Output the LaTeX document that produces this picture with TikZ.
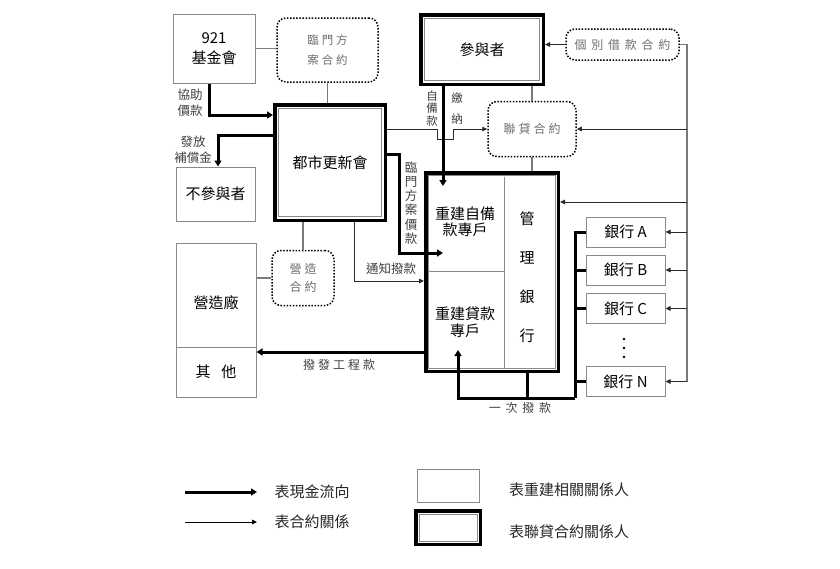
\documentclass[tikz,border=0pt]{standalone}
\usepackage{fontspec}
\setmainfont{Noto Sans CJK TC}
\newfontfamily\lsA[LetterSpace=25]{Noto Sans CJK TC}
\newfontfamily\lsB[LetterSpace=40]{Noto Sans CJK TC}
\usetikzlibrary{arrows.meta,calc}
\definecolor{boxgray}{HTML}{8A8A8A}
\definecolor{linegray}{HTML}{7A7A7A}
\definecolor{dotgray}{HTML}{6E6E6E}
\definecolor{lblgray}{HTML}{404040}
\definecolor{arrowdark}{HTML}{2A2A2A}
\tikzset{
  plain/.style={draw=boxgray, line width=1pt, fill=white, inner sep=0pt, align=center,
    font=\fontsize{15}{20}\selectfont},
  dblbox/.style={draw=black, line width=3.5pt, fill=white, inner sep=0pt, align=center,
    font=\fontsize{15}{20}\selectfont},
  innerline/.style={draw=boxgray, line width=1pt},
  dotbox/.style={draw=black, line width=1.5pt, dash pattern=on 1.5pt off 1.6pt,
    rounded corners=9pt, fill=white, inner sep=0pt, align=center, text=dotgray},
  money/.style={draw=black, line width=3pt, -{Triangle[length=6pt,width=7pt]}},
  moneyline/.style={draw=black, line width=3pt},
  contract/.style={draw=arrowdark, line width=1pt, -{Triangle[length=5pt,width=4.5pt]}},
  thinline/.style={draw=linegray, line width=1.1pt},
  lbl/.style={text=lblgray, inner sep=0pt, align=center},
  maintxt/.style={text=black, inner sep=0pt, align=center},
}
\newcommand\innerframe[2]{\draw[innerline] ([shift={(#2,-#2)}]#1.north west) rectangle ([shift={(-#2,#2)}]#1.south east);}
\begin{document}
\begin{tikzpicture}[x=1pt,y=-1pt]
\useasboundingbox (0,0) rectangle (840,568);
\fill[white] (0,0) rectangle (840,568);

% ---------- nodes ----------
\node[plain, minimum width=82, minimum height=69] (fund) at (214,48.5) {921\\基金會};
\node[dotbox, minimum width=101, minimum height=64, font=\lsA\fontsize{11.5}{20}\selectfont] (linmen) at (327.5,50) {臨門方\\案合約};
\node[dblbox, minimum width=110.5, minimum height=115.5] (urban) at (330,162.5) {都市更新會};
\innerframe{urban}{5.5pt}
\node[plain, minimum width=79, minimum height=54] (nonpart) at (215.5,194) {不參與者};

\node[dblbox, minimum width=122.5, minimum height=69.5] (part) at (482,49.5) {參與者};
\innerframe{part}{5.5pt}
\node[dotbox, minimum width=113, minimum height=31, font=\lsB\fontsize{12}{16}\selectfont] (indiv) at (622.5,44.5) {個別借款合約};
\node[dotbox, minimum width=88, minimum height=55, font=\lsA\fontsize{12}{16}\selectfont] (syn) at (532,129) {聯貸合約};

\node[dblbox, minimum width=132.5, minimum height=198.5] (mgr) at (492,272) {};
\innerframe{mgr}{4.5pt}
\draw[innerline] (504,176.5) -- (504,368.5);
\draw[innerline] (428.5,271) -- (504,271);
\node[maintxt, font=\fontsize{15}{16.5}\selectfont] (selfacct) at (465,222) {重建自備\\款專戶};
\node[maintxt, font=\fontsize{15}{17}\selectfont] (loanacct) at (465,322) {重建貸款\\專戶};
\node[maintxt, font=\fontsize{15}{39}\selectfont] (mgrbank) at (527,277) {管\\理\\銀\\行};

\node[plain, minimum width=79, minimum height=30] (bankA) at (625.5,232) {銀行 A};
\node[plain, minimum width=79, minimum height=30] (bankB) at (625.5,270) {銀行 B};
\node[plain, minimum width=79, minimum height=30] (bankC) at (625.5,308.5) {銀行 C};
\node[plain, minimum width=79, minimum height=30] (bankN) at (625.5,381.5) {銀行 N};
\fill[black] (624,339) circle (1.4) (624,348) circle (1.4) (624,357) circle (1.4);

\node[plain, minimum width=80, minimum height=104] (builder) at (216,295) {};
\node[maintxt, font=\fontsize{15}{18}\selectfont] (buildertxt) at (216,303) {營造廠};
\node[plain, minimum width=80, minimum height=50] (other) at (216,372) {其\hspace{11pt}他};
\node[dotbox, minimum width=62, minimum height=55, font=\lsA\fontsize{12}{18}\selectfont] (bcon) at (303,278) {營造\\合約};

% ---------- coordinates ----------
\coordinate (rtop) at (687,44.5);
\coordinate (rbot) at (687,381.5);
\coordinate (selfin) at (443,186);
\coordinate (lmin) at (443,253);
\coordinate (loanin) at (458,350);
\coordinate (bx) at (575,398);

% ---------- thin plain lines ----------
\draw[thinline] (fund.east) -- (fund.east -| linmen.west);
\draw[thinline] (linmen.south) -- (linmen.south |- urban.north);
\draw[thinline] (syn.north |- part.south) -- (syn.north);
\draw[thinline] (syn.south) -- (syn.south |- mgr.north);
\draw[thinline] (bcon.west -| builder.east) -- (bcon.west);
\draw[thinline] (bcon.north |- urban.south) -- (bcon.north);
\draw[thinline] (indiv.east) -| (rbot);

% ---------- contract arrows ----------
\draw[contract] (indiv.west) -- (indiv.west -| part.east);
\draw[contract] (syn.east -| rtop) -- (syn.east);
\draw[contract] ([yshift=70pt]mgr.east -| rtop) -- ([yshift=70pt]mgr.east);
\draw[contract] (bankA.east -| rtop) -- (bankA.east);
\draw[contract] (bankB.east -| rtop) -- (bankB.east);
\draw[contract] (bankC.east -| rtop) -- (bankC.east);
\draw[contract] (bankN.east -| rtop) -- (bankN.east);
\draw[contract] ([yshift=33.5pt]urban.east) -- ++(50,0) -- ++(0,10) -- ++(16,0) -- ++(0,-10) -- (syn.west);
\draw[contract] ([xshift=24pt]urban.south) |- ([yshift=-9pt]mgr.west);

% ---------- money arrows ----------
\draw[money] ([xshift=-5pt]fund.south) |- ([yshift=47.5pt]urban.west);
\draw[money] ([yshift=27.5pt]urban.west) -| ([xshift=2.5pt]nonpart.north);
\draw[money] ([yshift=8.5pt]urban.east) -- ++(12,0) |- (lmin);
\draw[money] ([xshift=-39pt]part.south) -- (selfin);
\draw[money] ([yshift=-80pt]mgr.west) -- ([yshift=-80pt]mgr.west -| other.east);
\draw[moneyline] (bankA.west) -| (bx);
\draw[moneyline] (bankB.west) -- (bankB.west -| bx);
\draw[moneyline] (bankC.west) -- (bankC.west -| bx);
\draw[moneyline] (bankN.west) -- (bankN.west -| bx);
\draw[moneyline] ([xshift=35pt]mgr.south) -- ([xshift=35pt]mgr.south |- bx);
\draw[money] (bx) -| (loanin);

% ---------- labels ----------
\node[lbl, font=\fontsize{12.5}{16}\selectfont] (lblassist) at (190,103) {協助\\價款};
\node[lbl, font=\fontsize{12.5}{16}\selectfont] (lblcomp) at (193,150) {發放\\補償金};
\node[lbl, font=\fontsize{12.5}{14.3}\selectfont] (lbllm) at (411,203) {臨\\門\\方\\案\\價\\款};
\node[lbl, font=\fontsize{11.5}{12.5}\selectfont] (lblself) at (432,108.5) {自\\備\\款};
\node[lbl, font=\fontsize{11.5}{21}\selectfont] (lblpay) at (457,109) {繳\\納};
\node[lbl, font=\fontsize{12.5}{15}\selectfont] (lblnotify) at (391,269) {通知撥款};
\node[lbl, font=\lsA\fontsize{12}{15}\selectfont] (lblpayout) at (339,365) {撥發工程款};
\node[lbl, font=\lsB\fontsize{12}{15}\selectfont] (lblonce) at (520,408) {一次撥款};

% ---------- legend ----------
\coordinate (lg1a) at (185,492);
\coordinate (lg1b) at (257,492);
\coordinate (lg2a) at (185,522);
\coordinate (lg2b) at (257,522);
\draw[money] (lg1a) -- (lg1b);
\draw[contract, draw=black] (lg2a) -- (lg2b);
\node[lbl, text=black!85, font=\fontsize{15}{17}\selectfont] (lgt1) at (312,492) {表現金流向};
\node[lbl, text=black!85, font=\fontsize{15}{17}\selectfont] (lgt2) at (312,522) {表合約關係};
\node[plain, minimum width=62, minimum height=33] (lgplain) at (448,485.5) {};
\node[dblbox, minimum width=64.5, minimum height=33.5] (lgdbl) at (448,527.5) {};
\innerframe{lgdbl}{5pt}
\node[lbl, text=black!85, font=\fontsize{15}{17}\selectfont] (lgt3) at (569,490) {表重建相關關係人};
\node[lbl, text=black!85, font=\fontsize{15}{17}\selectfont] (lgt4) at (569,532) {表聯貸合約關係人};
\end{tikzpicture}
\end{document}
